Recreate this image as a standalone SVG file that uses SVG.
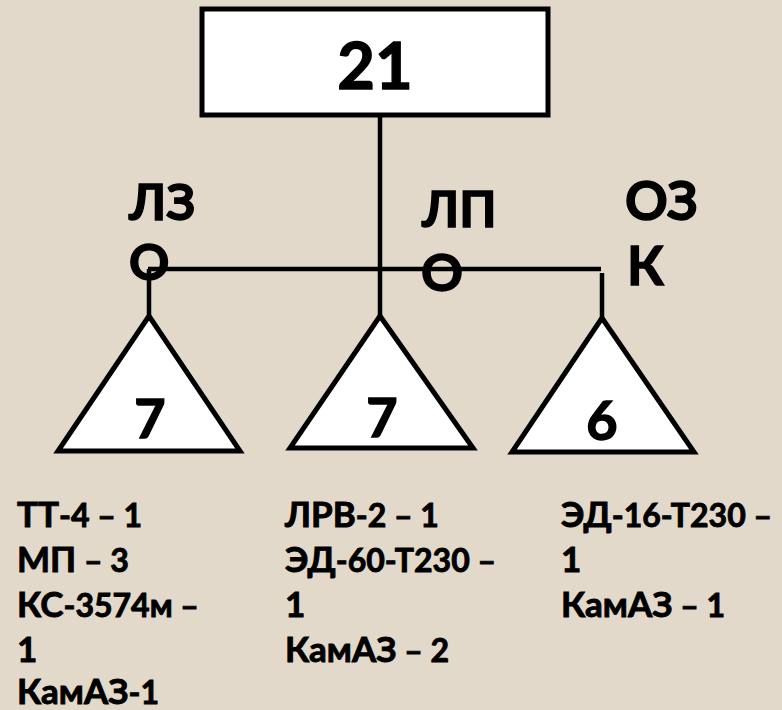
<svg xmlns="http://www.w3.org/2000/svg" width="782" height="710" viewBox="0 0 782 710">
<style>
.t{font-family:Lato,"Open Sans","DejaVu Sans",sans-serif;font-weight:bold;fill:#000;stroke:#000;stroke-width:0.9}
.big{stroke-width:1.4}
.b{font-size:35px}
.s{font-size:32px}
.shape{fill:#fff;stroke:#000;stroke-width:5;stroke-linejoin:miter}
.conn line{stroke:#000;stroke-width:4.5}
</style>
<rect width="782" height="710" fill="#e2d9ca"/>
<g class="conn" id="connectors">
<line x1="380" y1="115" x2="380" y2="316"/>
<line x1="148" y1="269" x2="601" y2="269"/>
<line x1="149" y1="269" x2="149" y2="316"/>
<line x1="602" y1="273" x2="602" y2="318"/>
</g>
<g id="root">
<rect class="shape" x="202" y="9" width="346" height="106" stroke-width="4.5"/>
<text class="t big" x="375" y="89" font-size="65" text-anchor="middle">21</text>
</g>
<g id="lzo">
<polygon class="shape" points="149,316 58,451 240,451"/>
<text class="t big" x="150" y="438" font-size="54" text-anchor="middle">7</text>
<text class="t big" x="129" y="220" font-size="50">ЛЗ</text>
<text class="t big" x="129" y="280" font-size="50">О</text>
</g>
<g id="lpo">
<polygon class="shape" points="380,316 290,448 473,448"/>
<text class="t big" x="382" y="437" font-size="54" text-anchor="middle">7</text>
<text class="t big" x="422" y="227" font-size="50">ЛП</text>
<text class="t big" x="421" y="291" font-size="52">О</text>
</g>
<g id="ozk">
<polygon class="shape" points="602,318 512,452 694,452"/>
<text class="t big" x="602" y="440" font-size="54" text-anchor="middle">6</text>
<text class="t big" x="625" y="220" font-size="53">ОЗ</text>
<text class="t big" x="627" y="285" font-size="53">К</text>
</g>
<g id="list-lzo">
<text class="t" x="17" y="527"><tspan class="b">ТТ</tspan><tspan class="s">-4 – 1</tspan></text>
<text class="t" x="17" y="572"><tspan class="b">МП</tspan><tspan class="s"> – 3</tspan></text>
<text class="t" x="17" y="617"><tspan class="b">КС</tspan><tspan class="s">-3574м –</tspan></text>
<text class="t b" x="17" y="662">1</text>
<text class="t" x="17" y="704"><tspan class="b">КамАЗ</tspan><tspan class="s">-1</tspan></text>
</g>
<g id="list-lpo">
<text class="t" x="285" y="527"><tspan class="b">ЛРВ</tspan><tspan class="s">-2 – 1</tspan></text>
<text class="t" x="285" y="572"><tspan class="b">ЭД</tspan><tspan class="s">-60-Т230 –</tspan></text>
<text class="t b" x="285" y="617">1</text>
<text class="t" x="285" y="662"><tspan class="b">КамАЗ</tspan><tspan class="s"> – 2</tspan></text>
</g>
<g id="list-ozk">
<text class="t" x="561" y="527"><tspan class="b">ЭД</tspan><tspan class="s">-16-Т230 –</tspan></text>
<text class="t b" x="561" y="572">1</text>
<text class="t" x="561" y="617"><tspan class="b">КамАЗ</tspan><tspan class="s"> – 1</tspan></text>
</g>
</svg>
